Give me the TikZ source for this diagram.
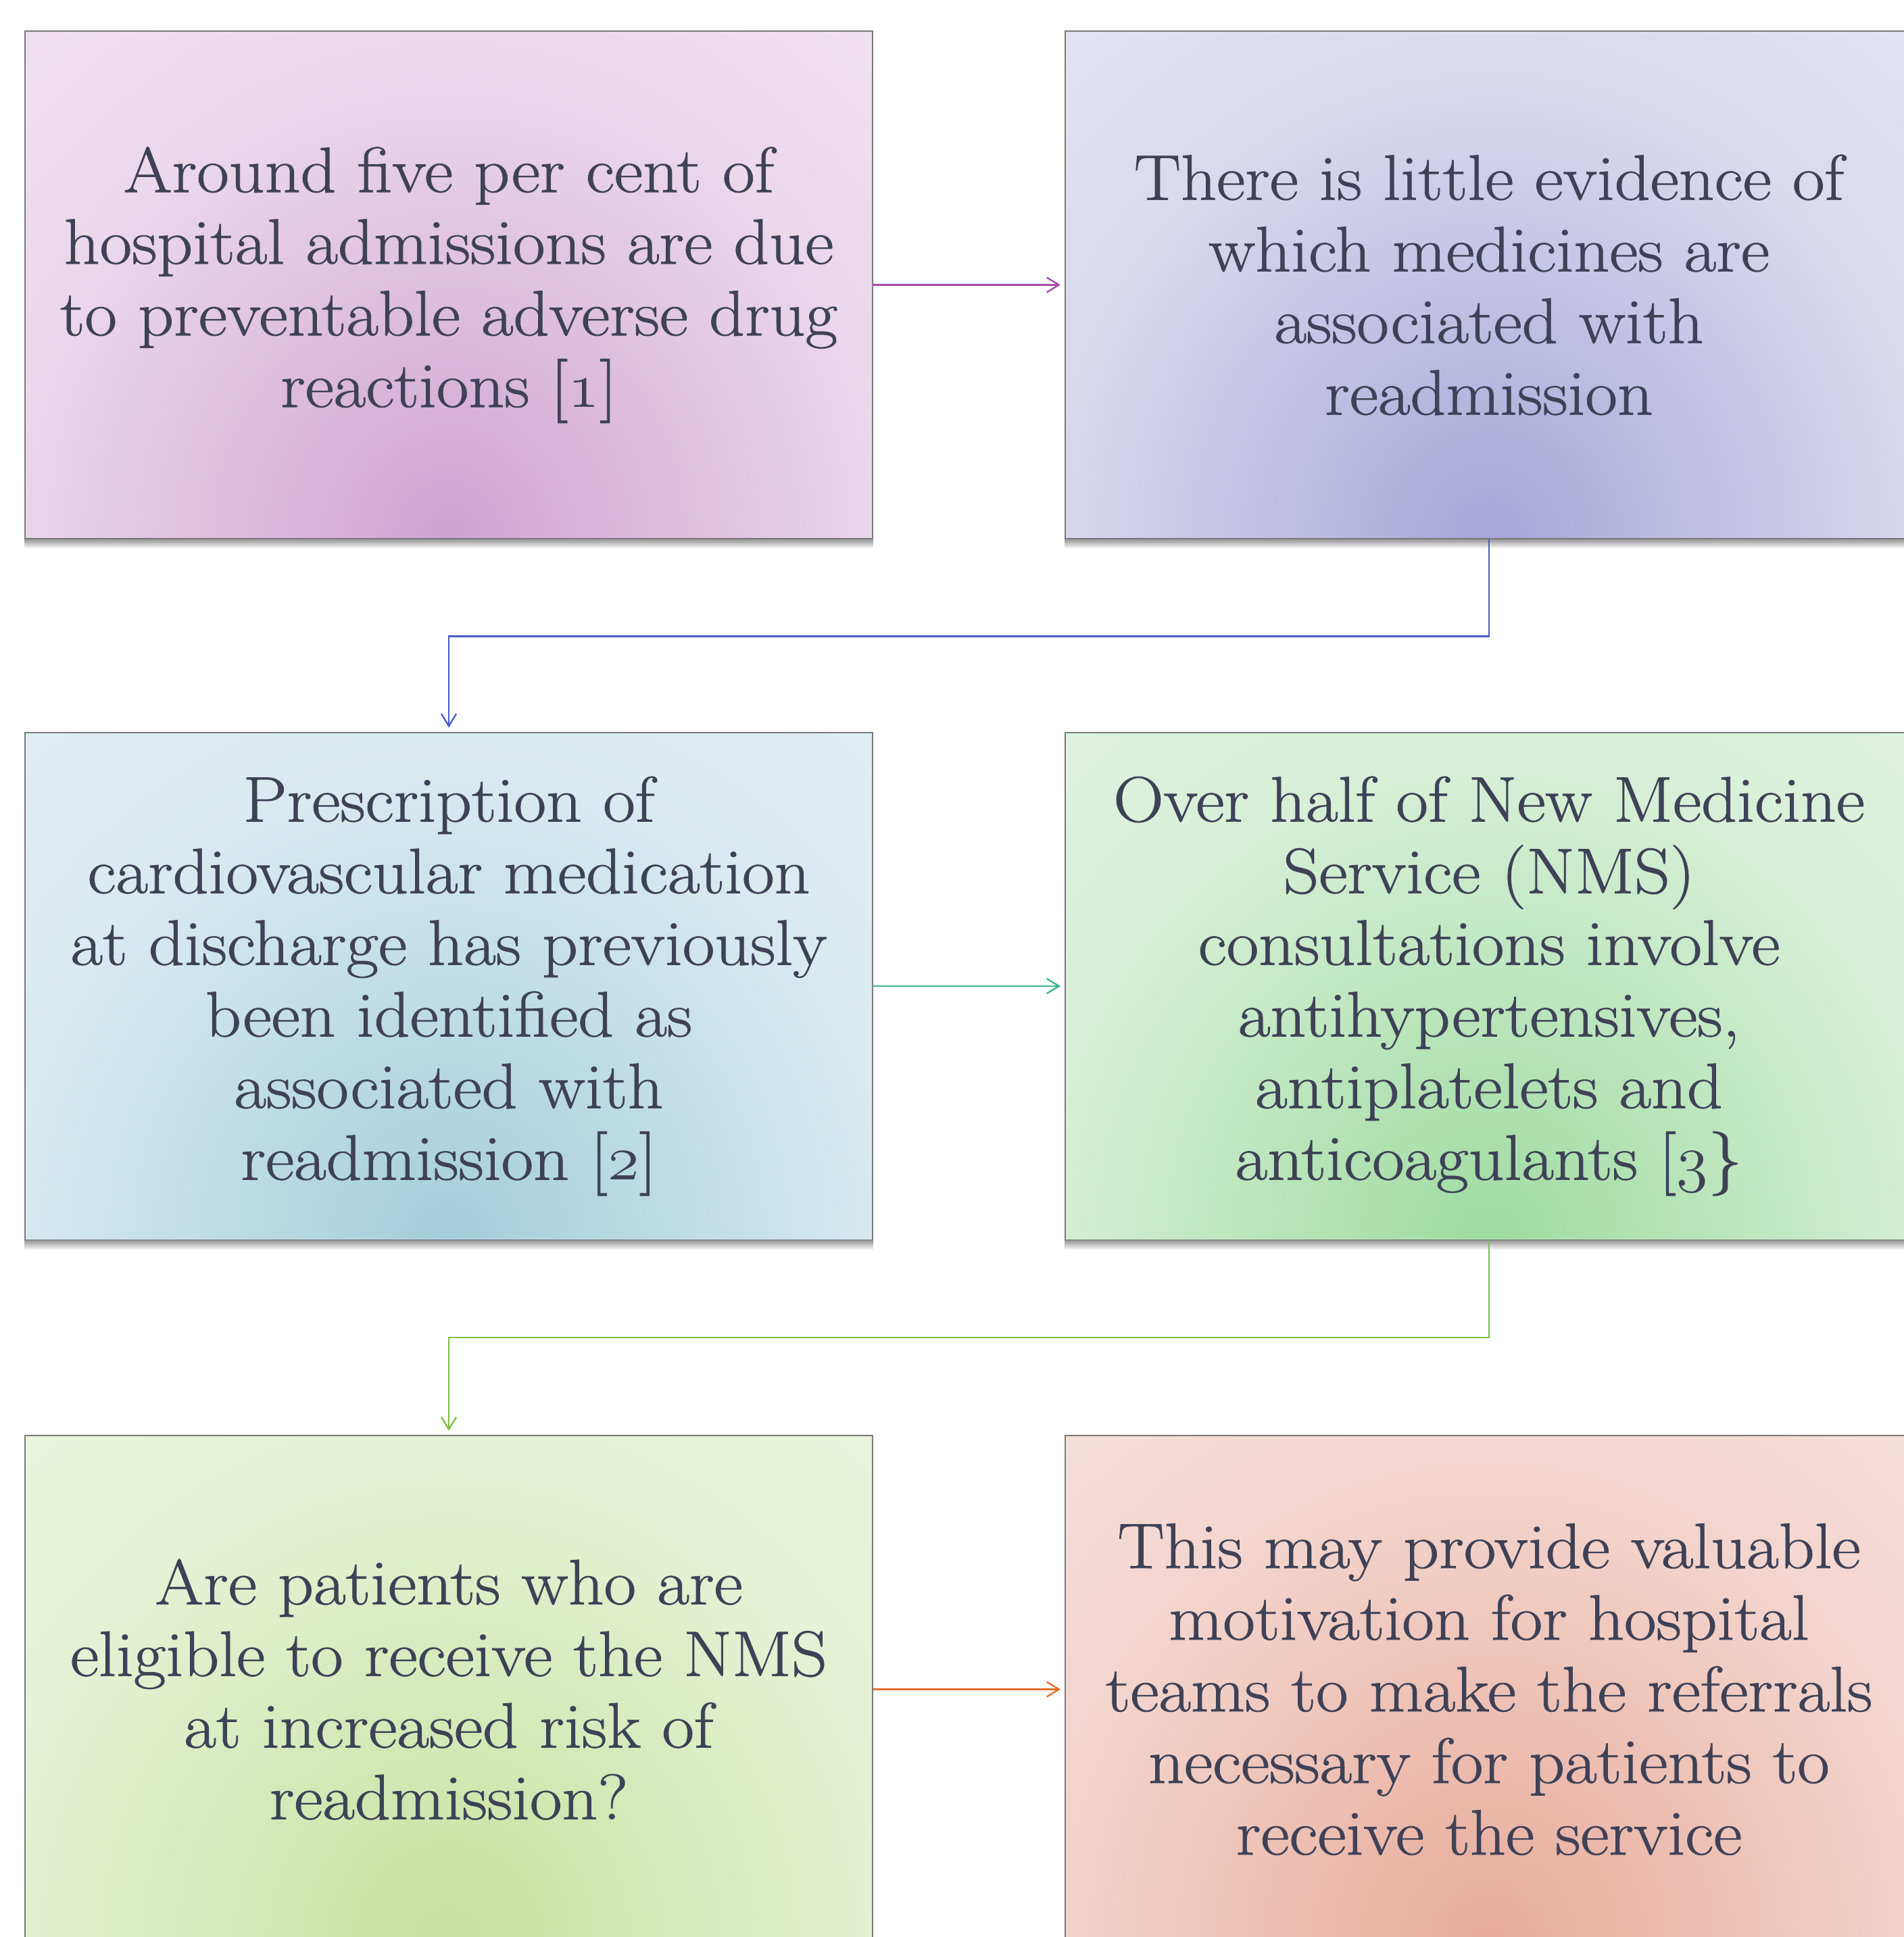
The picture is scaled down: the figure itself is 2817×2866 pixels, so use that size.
\RequirePackage{fix-cm}
\documentclass[tikz,border=0pt]{standalone}
\usepackage{fontspec}
\newfontfamily\boxfont{Latin Modern Roman}[FakeBold=0.9, FakeStretch=1.09]
\newcommand\osnum[1]{{\usefont{OML}{cmm}{m}{it}#1}}
\usetikzlibrary{arrows.meta}
\definecolor{txt}{HTML}{3F4257}
\definecolor{bord}{HTML}{7A7A7A}
\definecolor{aL}{HTML}{F7F0F7}\definecolor{aM}{HTML}{EBD8EB}\definecolor{aD}{HTML}{CFA3D1}
\definecolor{bL}{HTML}{F3F3FA}\definecolor{bM}{HTML}{DADAEE}\definecolor{bD}{HTML}{A7A6D8}
\definecolor{cL}{HTML}{EFF6F9}\definecolor{cM}{HTML}{D9EAF0}\definecolor{cD}{HTML}{A4CEDA}
\definecolor{dL}{HTML}{F2FAF2}\definecolor{dM}{HTML}{D6EFD6}\definecolor{dD}{HTML}{9FDBA1}
\definecolor{eL}{HTML}{F4F8EC}\definecolor{eM}{HTML}{E5F1D4}\definecolor{eD}{HTML}{C7E19E}
\definecolor{fL}{HTML}{FAEFEC}\definecolor{fM}{HTML}{F3D5CE}\definecolor{fD}{HTML}{E7AB9A}
\definecolor{ca}{HTML}{A94AB0}
\definecolor{cb}{HTML}{4A5CC8}
\definecolor{cc}{HTML}{3BB38A}
\definecolor{cd}{HTML}{7CC040}
\definecolor{ce}{HTML}{E0702A}
\newcommand\mkshade[4]{\pgfdeclareradialshading{#1}{\pgfpoint{0bp}{0bp}}{color(0bp)=(#2);color(11bp)=(#3);color(25bp)=(#4);color(50bp)=(#4)}}
\mkshade{shA}{aD}{aM}{aL}
\mkshade{shB}{bD}{bM}{bL}
\mkshade{shC}{cD}{cM}{cL}
\mkshade{shD}{dD}{dM}{dL}
\mkshade{shE}{eD}{eM}{eL}
\mkshade{shF}{fD}{fM}{fL}
\begin{document}
\begin{tikzpicture}[x=0.5pt,y=-0.5pt,
  box/.style={draw=bord, line width=1pt, minimum width=627pt, minimum height=375.5pt,
    inner sep=0pt, align=center, text=txt, font=\boxfont\fontsize{47.5}{53}\selectfont,
    path picture={\shade[shading=#1] (path picture bounding box.south) ellipse [x radius=750pt, y radius=790pt];}},
  conn/.style={line width=1.2pt, draw=#1, -{Straight Barb[length=9pt,width=11pt]}, shorten >=3pt},
  shadowbar/.style={top color=black!40, bottom color=white, draw=none}]
\useasboundingbox (0,0) rectangle (2817,2866);
\clip (0,0) rectangle (2817,2866);
\node[box=shA] (b1) at (664,421.5) {Around five per cent of\\hospital admissions are due\\to preventable adverse drug\\reactions [\osnum{1}]};
\node[box=shB] (b2) at (2203,421.5) {There is little evidence of\\which medicines are\\associated with\\readmission};
\node[box=shC] (b3) at (664,1459) {Prescription of\\cardiovascular medication\\at discharge has previously\\been identified as\\associated with\\readmission [\osnum{2}]};
\node[box=shD] (b4) at (2203,1459) {Over half of New Medicine\\Service (NMS)\\consultations involve\\antihypertensives,\\antiplatelets and\\anticoagulants [\osnum{3}\}};
\node[box=shE] (b5) at (664,2499.5) {Are patients who are\\eligible to receive the NMS\\at increased risk of\\readmission?};
\node[box=shF] (b6) at (2203,2499.5) {This may provide valuable\\motivation for hospital\\teams to make the referrals\\necessary for patients to\\receive the service};
\foreach \n in {b1,b2,b3,b4,b5,b6}
  \shade[shadowbar] (\n.south west) rectangle ([yshift=-7pt]\n.south east);
\draw[conn=ca] (b1.east) -- (b2.west);
\draw[conn=cb] (b2.south) -- ++(0,143.5) -| (b3.north);
\draw[conn=cc] (b3.east) -- (b4.west);
\draw[conn=cd] (b4.south) -- ++(0,143.5) -| (b5.north);
\draw[conn=ce] (b5.east) -- (b6.west);
\end{tikzpicture}
\end{document}
